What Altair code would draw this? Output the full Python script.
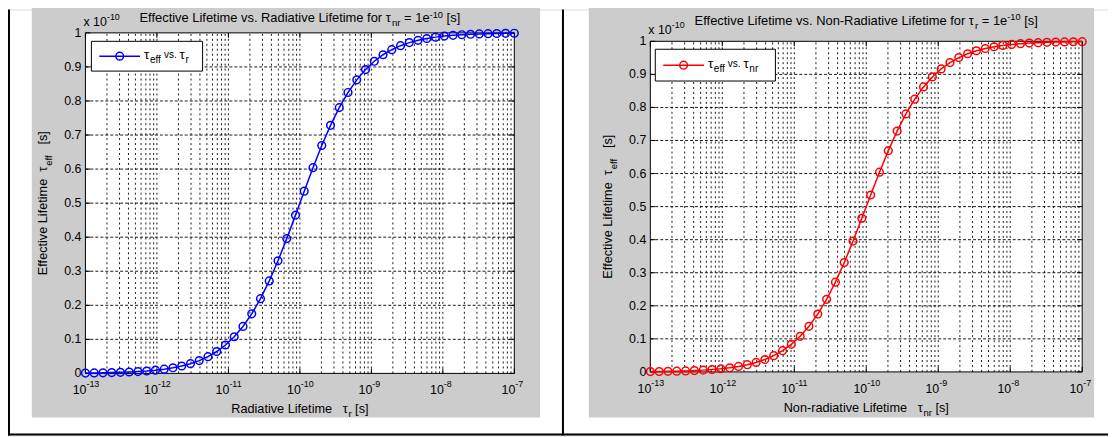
import altair as alt
import pandas as pd

# ---------------- data ----------------
tau_r = [1.000e-13, 1.326e-13, 1.758e-13, 2.330e-13, 3.089e-13, 4.095e-13, 5.429e-13, 7.197e-13, 9.541e-13,
         1.265e-12, 1.677e-12, 2.223e-12, 2.947e-12, 3.907e-12, 5.179e-12, 6.866e-12, 9.103e-12,
         1.207e-11, 1.600e-11, 2.121e-11, 2.812e-11, 3.728e-11, 4.942e-11, 6.551e-11, 8.685e-11,
         1.151e-10, 1.526e-10, 2.024e-10, 2.683e-10, 3.556e-10, 4.715e-10, 6.251e-10, 8.286e-10,
         1.099e-9, 1.456e-9, 1.931e-9, 2.560e-9, 3.393e-9, 4.498e-9, 5.964e-9, 7.906e-9,
         1.048e-8, 1.389e-8, 1.842e-8, 2.442e-8, 3.237e-8, 4.292e-8, 5.690e-8, 7.543e-8, 1.000e-7]
teff_r = [0.0010, 0.0013, 0.0018, 0.0023, 0.0031, 0.0041, 0.0054, 0.0071, 0.0095, 0.0125,
          0.0165, 0.0218, 0.0286, 0.0376, 0.0492, 0.0643, 0.0834, 0.1077, 0.1379, 0.1750,
          0.2195, 0.2715, 0.3307, 0.3958, 0.4648, 0.5352, 0.6042, 0.6693, 0.7285, 0.7805,
          0.8250, 0.8621, 0.8923, 0.9166, 0.9358, 0.9508, 0.9624, 0.9714, 0.9782, 0.9835,
          0.9875, 0.9906, 0.9929, 0.9946, 0.9959, 0.9969, 0.9977, 0.9982, 0.9987, 0.9990]
tau_nr = [1.000e-13, 1.326e-13, 1.758e-13, 2.330e-13, 3.089e-13, 4.095e-13, 5.429e-13, 7.197e-13, 9.541e-13,
          1.265e-12, 1.677e-12, 2.223e-12, 2.947e-12, 3.907e-12, 5.179e-12, 6.866e-12, 9.103e-12,
          1.207e-11, 1.600e-11, 2.121e-11, 2.812e-11, 3.728e-11, 4.942e-11, 6.551e-11, 8.685e-11,
          1.151e-10, 1.526e-10, 2.024e-10, 2.683e-10, 3.556e-10, 4.715e-10, 6.251e-10, 8.286e-10,
          1.099e-9, 1.456e-9, 1.931e-9, 2.560e-9, 3.393e-9, 4.498e-9, 5.964e-9, 7.906e-9,
          1.048e-8, 1.389e-8, 1.842e-8, 2.442e-8, 3.237e-8, 4.292e-8, 5.690e-8, 7.543e-8, 1.000e-7]
teff_nr = [0.0010, 0.0013, 0.0018, 0.0023, 0.0031, 0.0041, 0.0054, 0.0071, 0.0095, 0.0125,
           0.0165, 0.0218, 0.0286, 0.0376, 0.0492, 0.0643, 0.0834, 0.1077, 0.1379, 0.1750,
           0.2195, 0.2715, 0.3307, 0.3958, 0.4648, 0.5352, 0.6042, 0.6693, 0.7285, 0.7805,
           0.8250, 0.8621, 0.8923, 0.9166, 0.9358, 0.9508, 0.9624, 0.9714, 0.9782, 0.9835,
           0.9875, 0.9906, 0.9929, 0.9946, 0.9959, 0.9969, 0.9977, 0.9982, 0.9987, 0.9990]

decades = [1e-13, 1e-12, 1e-11, 1e-10, 1e-9, 1e-8, 1e-7]
decade_exps = ["-13", "-12", "-11", "-10", "-9", "-8", "-7"]
minor_mult = [2, 3, 4, 5, 6, 7, 8, 9]
y_ticks = [0, 0.1, 0.2, 0.3, 0.4, 0.5, 0.6, 0.7, 0.8, 0.9, 1.0]
y_tick_labels = ["0", "0.1", "0.2", "0.3", "0.4", "0.5", "0.6", "0.7", "0.8", "0.9", "1"]

# ---------------- styling ----------------
FONT = "Liberation Sans"
GRAY = "#cccccc"
TXT = "#000000"
TICK_FS = 12.5
LAB_FS = 12.8
TITLE_FS = 13
NBSP = "\u00a0"
W = {' ': 278, '-': 333, '.': 278, '=': 584, '[': 278, ']': 278, 'τ': 440,
     'A': 667, 'E': 667, 'L': 556, 'N': 722, 'R': 722, 'x': 500,
     'a': 556, 'c': 500, 'd': 556, 'e': 556, 'f': 278, 'i': 222, 'l': 222, 'm': 833,
     'n': 556, 'o': 556, 'r': 333, 's': 500, 't': 278, 'v': 500}


def tw(s, size):
    return sum(W.get(c, 556) for c in s) * size / 1000.0


def text_at(s, x, y, size, align="left", angle=0, baseline="alphabetic", color=TXT):
    return alt.Chart(pd.DataFrame({"t": [s]})).mark_text(
        font=FONT, fontSize=size, align=align, baseline=baseline, angle=angle, color=color
    ).encode(x=alt.value(x), y=alt.value(y), text="t:N")


def rich(pieces, x, y, size, center=False, vertical=False):
    """pieces: list of (text, scale, shift) ; shift in px, + = down (subscript)."""
    total = sum(tw(t, size * sc) for t, sc, sh in pieces)
    out = []
    pos = (x - total / 2.0) if center else x
    if vertical:
        pos = (y + total / 2.0) if center else y
    for t, sc, sh in pieces:
        fs = size * sc
        lead = len(t) - len(t.lstrip(" "))
        core = t.strip(" ").replace(" ", NBSP)
        off = tw(" " * lead, fs)
        if vertical:
            out.append(text_at(core, x + sh, pos - off, fs, angle=270))
            pos -= tw(t, fs)
        else:
            out.append(text_at(core, pos + off, y + sh, fs))
            pos += tw(t, fs)
    return out


def box_px(x1, y1, x2, y2, fill=None, stroke=None, sw=1):
    kw = dict(fill=fill if fill else "transparent")
    if stroke:
        kw.update(stroke=stroke, strokeWidth=sw)
    return alt.Chart(pd.DataFrame({"a": [0]})).mark_rect(**kw).encode(
        x=alt.value(x1), x2=alt.value(x2), y=alt.value(y1), y2=alt.value(y2))


def panel(P):
    xl, xr = P["xr"]
    yb, yt = P["yr"]
    xs = alt.Scale(type="log", domain=[1e-13, 1e-7], range=[xl, xr], nice=False)
    ys = alt.Scale(type="linear", domain=[0, 1], range=[yb, yt], nice=False, zero=False)
    L = []
    # figure background
    L.append(box_px(*P["bg"], fill=GRAY))
    # axes white area
    L.append(box_px(xl, yt, xr, yb, fill="white"))
    # vertical grid (major + minor)
    gx = [m * d for d in decades[:-1] for m in minor_mult] + decades[1:-1]
    gdf = pd.DataFrame({"x": gx, "y0": 0.0, "y1": 1.0})
    L.append(alt.Chart(gdf).mark_rule(color="black", strokeWidth=1, strokeDash=[2, 3], opacity=0.9).encode(
        x=alt.X("x:Q", scale=xs, axis=None), y=alt.Y("y0:Q", scale=ys, axis=None), y2="y1:Q"))
    # horizontal grid
    hdf = pd.DataFrame({"y": y_ticks[1:-1], "x0": 1e-13, "x1": 1e-7})
    L.append(alt.Chart(hdf).mark_rule(color="black", strokeWidth=1, strokeDash=[3, 2], opacity=0.9).encode(
        y=alt.Y("y:Q", scale=ys, axis=None), x=alt.X("x0:Q", scale=xs, axis=None), x2="x1:Q"))
    # ticks (inside)
    mdf = pd.DataFrame({"x": decades})
    for ypix, d in ((yb, -5), (yt, 5)):
        L.append(alt.Chart(mdf).mark_rule(color="black", strokeWidth=1).encode(
            x=alt.X("x:Q", scale=xs, axis=None), y=alt.value(ypix), y2=alt.value(ypix + d)))
    ydf = pd.DataFrame({"y": y_ticks})
    for xpix, d in ((xl, 5), (xr, -5)):
        L.append(alt.Chart(ydf).mark_rule(color="black", strokeWidth=1).encode(
            y=alt.Y("y:Q", scale=ys, axis=None), x=alt.value(xpix), x2=alt.value(xpix + d)))
    # axes box
    L.append(box_px(xl, yt, xr, yb, stroke="black", sw=1))
    # data line + markers
    ddf = pd.DataFrame({"tau": P["tau"], "teff": P["teff"]})
    base = alt.Chart(ddf).encode(x=alt.X("tau:Q", scale=xs, axis=None),
                                 y=alt.Y("teff:Q", scale=ys, axis=None))
    L.append(base.mark_line(color=P["color"], strokeWidth=1.5))
    L.append(base.mark_point(shape="circle", filled=False, color=P["color"], size=60, strokeWidth=1.5, opacity=1))
    # x tick labels
    tdf = pd.DataFrame({"x": decades, "b": ["10"] * 7, "e": decade_exps})
    L.append(alt.Chart(tdf).mark_text(font=FONT, fontSize=TICK_FS, align="right", baseline="alphabetic", color=TXT, dx=1).encode(
        x=alt.X("x:Q", scale=xs, axis=None), y=alt.value(yb + 21), text="b:N"))
    L.append(alt.Chart(tdf).mark_text(font=FONT, fontSize=9, align="left", baseline="alphabetic", color=TXT, dx=1).encode(
        x=alt.X("x:Q", scale=xs, axis=None), y=alt.value(yb + 14), text="e:N"))
    # y tick labels
    ldf = pd.DataFrame({"y": y_ticks, "t": y_tick_labels})
    L.append(alt.Chart(ldf).mark_text(font=FONT, fontSize=TICK_FS, align="right", baseline="middle", color=TXT).encode(
        y=alt.Y("y:Q", scale=ys, axis=None), x=alt.value(xl - 4), text="t:N"))
    # exponent multiplier
    L += rich([("x 10", 1.0, 0), ("-10", 0.72, -6)], xl - 2, yt - 7, TICK_FS)
    # title
    L += rich(P["title"], (xl + xr) / 2.0, P["title_y"], TITLE_FS, center=True)
    # x label
    L += rich(P["xlabel"], (xl + xr) / 2.0, yb + 40, LAB_FS, center=True)
    # y label
    L += rich([("Effective Lifetime  τ", 1.0, 0), ("eff", 0.75, 5), ("   [s]", 1.0, 0)],
              P["ylab_x"], (yb + yt) / 2.0, LAB_FS, center=True, vertical=True)
    # legend
    lx1, ly1, lx2, ly2 = P["leg"]
    L.append(box_px(lx1, ly1, lx2, ly2, fill="white", stroke="black", sw=1))
    lg = pd.DataFrame({"x": [lx1 + 8, lx1 + 49], "y": [(ly1 + ly2) / 2.0] * 2})
    L.append(alt.Chart(lg).mark_line(color=P["color"], strokeWidth=1.5).encode(
        x=alt.X("x:Q", scale=None), y=alt.Y("y:Q", scale=None)))
    L.append(alt.Chart(lg.iloc[[0]]).mark_point(shape="circle", filled=False, color=P["color"], size=60,
                                                 strokeWidth=1.5, opacity=1).encode(
        x=alt.value(lx1 + 28.5), y=alt.value((ly1 + ly2) / 2.0)))
    L += rich(P["legtext"], lx1 + 53, (ly1 + ly2) / 2.0 + 3, 13.5)
    return L


left = dict(
    xr=(78, 510), yr=(366.5, 23.5), bg=(24, -10, 536, 411), color="#0000ff",
    tau=tau_r, teff=teff_r, title_y=13, ylab_x=39, leg=(84, 32, 196, 62),
    title=[("Effective Lifetime vs. Radiative Lifetime for τ", 1.0, 0), ("nr", 0.75, 4),
           (" = 1e", 1.0, 0), ("-10", 0.72, -4.5), (" [s]", 1.0, 0)],
    xlabel=[("Radiative Lifetime   τ", 1.0, 0), ("r", 0.75, 4), (" [s]", 1.0, 0)],
    legtext=[("τ", 1.0, 0), ("eff", 0.75, 4), (" vs. ", 0.75, -1), ("τ", 1.0, 0), ("r", 0.75, 4)],
)
right = dict(
    xr=(647, 1082), yr=(365, 32), bg=(585, -10, 1094, 411), color="#ff0000",
    tau=tau_nr, teff=teff_nr, title_y=16, ylab_x=608, leg=(652, 40, 773, 72),
    title=[("Effective Lifetime vs. Non-Radiative Lifetime for τ", 1.0, 0), ("r", 0.75, 4),
           (" = 1e", 1.0, 0), ("-10", 0.72, -5), (" [s]", 1.0, 0)],
    xlabel=[("Non-radiative Lifetime   τ", 1.0, 0), ("nr", 0.75, 4), (" [s]", 1.0, 0)],
    legtext=[("τ", 1.0, 0), ("eff", 0.75, 4), (" vs. ", 0.75, -1), ("τ", 1.0, 0), ("nr", 0.75, 4)],
)

layers = []
layers += panel(left)
layers += panel(right)
# frame lines
layers.append(box_px(0, 0, 2, 429, fill="black"))
layers.append(box_px(558, 0, 560, 429, fill="black"))
layers.append(box_px(0, 427, 1108, 429, fill="black"))

chart = alt.layer(*layers).resolve_scale(x="independent", y="independent").properties(
    width=1108, height=429, autosize=alt.AutoSizeParams(type="none"), padding=0
).configure_view(stroke=None).configure(background="white")

chart.save("out.html", embed_options={"renderer": "svg", "actions": False})
